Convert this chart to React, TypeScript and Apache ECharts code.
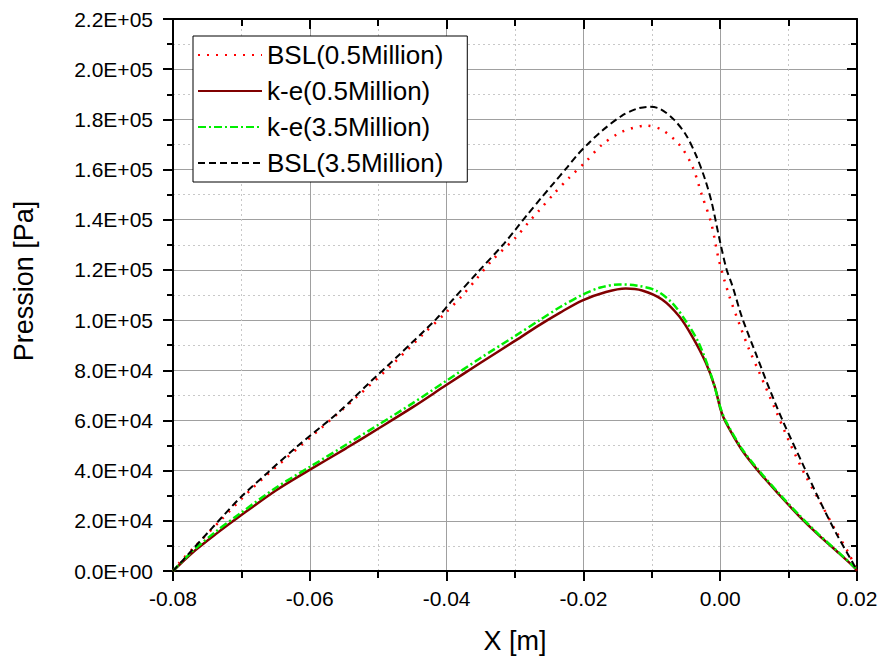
import React, { useEffect, useRef } from "react";
import * as echarts from "echarts";

// Pressure along X for the BSL and k-e turbulence models at two Reynolds numbers
const bsl05X = [-0.08, -0.0791, -0.0766, -0.073, -0.0684, -0.0633, -0.0582, -0.0532, -0.0481, -0.0436, -0.0401, -0.0377, -0.0356, -0.0334, -0.0299, -0.028, -0.0265, -0.0243, -0.0221, -0.0196, -0.0173, -0.0144, -0.0108, -0.0085, -0.006, -0.0041, -0.0027, -0.0013, -0.0002, 0.0013, 0.003, 0.0042, 0.0057, 0.0082, 0.0101, 0.0123, 0.0147, 0.0169, 0.0188, 0.02];
const bsl05Y = [0, 3200, 10300, 20300, 33000, 45300, 57300, 69200, 81900, 93900, 103000, 109800, 116500, 123700, 132900, 139000, 143600, 150400, 156700, 163300, 169800, 175000, 177500, 175800, 170000, 161500, 150000, 138500, 124000, 109800, 97000, 88500, 79200, 63500, 51500, 38900, 27000, 16000, 7000, 0];

const ke05X = [-0.08, -0.0772, -0.0737, -0.0704, -0.0649, -0.0601, -0.0547, -0.0499, -0.045, -0.0401, -0.0352, -0.0299, -0.0265, -0.0234, -0.0202, -0.0167, -0.0138, -0.0114, -0.0085, -0.006, -0.0041, -0.0021, -0.0008, 0.0001, 0.0008, 0.0032, 0.0057, 0.0086, 0.0115, 0.0144, 0.0174, 0.0196, 0.02];
const ke05Y = [0, 7200, 14800, 21500, 32200, 40200, 48900, 56900, 65200, 74000, 82700, 91900, 97900, 103000, 107800, 111200, 112600, 111800, 108200, 101500, 93500, 83000, 73500, 64000, 59300, 48100, 39400, 30500, 22000, 14300, 7000, 1500, 0];

const ke35X = [-0.08, -0.0772, -0.0737, -0.0704, -0.0649, -0.0601, -0.0547, -0.0499, -0.045, -0.0401, -0.0352, -0.0299, -0.0265, -0.0234, -0.0202, -0.0175, -0.0148, -0.0123, -0.0094, -0.007, -0.005, -0.0031, -0.0012, 0.0001, 0.0008, 0.0032, 0.0057, 0.0086, 0.0115, 0.0144, 0.0174, 0.0196, 0.02];
const ke35Y = [0, 7800, 15800, 22500, 33300, 41300, 50300, 58400, 66800, 75700, 84600, 93800, 99800, 105200, 110000, 113000, 114200, 113800, 111800, 106800, 99500, 90700, 77000, 64500, 59800, 48600, 39900, 30900, 22400, 14600, 7200, 1600, 0];

const bsl35X = [-0.08, -0.0772, -0.0743, -0.0701, -0.066, -0.062, -0.0557, -0.0513, -0.047, -0.0415, -0.0392, -0.0353, -0.0316, -0.0299, -0.0282, -0.0262, -0.0243, -0.0225, -0.0209, -0.0192, -0.0173, -0.0144, -0.0122, -0.0105, -0.0088, -0.0068, -0.005, -0.0035, -0.0022, -0.0012, -0.0002, 0.0009, 0.0018, 0.0032, 0.0052, 0.0074, 0.0093, 0.012, 0.0142, 0.0169, 0.0196, 0.02];
const bsl35Y = [0, 8400, 17100, 29400, 39600, 49300, 63500, 75000, 86000, 100500, 107800, 119500, 130500, 136200, 142000, 148600, 154700, 160500, 165800, 170600, 175400, 181400, 184200, 185000, 184200, 180000, 173800, 165500, 156000, 146400, 133500, 120500, 113500, 101000, 86700, 71200, 58900, 43000, 30000, 15300, 2200, 0];

const seriesNames = ["BSL(0.5Million)", "k-e(0.5Million)", "k-e(3.5Million)", "BSL(3.5Million)"];

const xMin = -0.08;
const xMax = 0.02;
const xStep = 0.02;
const yMin = 0;
const yMax = 220000;
const yStep = 20000;

const FONT = "'Liberation Sans', Arial, sans-serif";

const zip = (xs: number[], ys: number[]) => xs.map((x, i) => [x, ys[i]]);

const fmtY = (v: number) => {
  const [m, e] = v.toExponential(1).split("e");
  const n = parseInt(e, 10);
  return `${m}E${n < 0 ? "-" : "+"}${String(Math.abs(n)).padStart(2, "0")}`;
};

const fmtX = (v: number) => (Math.abs(v) < 1e-9 ? "0.00" : v.toFixed(2));

export default function App() {
  const ref = useRef<HTMLDivElement>(null);

  useEffect(() => {
    if (!ref.current) return;
    const chart = echarts.init(ref.current, undefined, { renderer: "svg" });

    const frameLine = { show: true, onZero: false, lineStyle: { color: "#000", width: 2 } };
    const majorGrid = { show: true, lineStyle: { color: "#a0a0a0", width: 1 } };
    const minorGrid = { show: true, lineStyle: { color: "#c8c8c8", width: 1, type: [2, 3] } };

    const line = (name: string, data: number[][], color: string, width: number, type: any) => ({
      name,
      type: "line",
      data,
      xAxisIndex: 0,
      yAxisIndex: 0,
      symbol: "none",
      showSymbol: false,
      smooth: 0.3,
      lineStyle: { color, width, type },
      itemStyle: { color },
    });

    chart.setOption({
      animation: false,
      backgroundColor: "#fff",
      textStyle: { fontFamily: FONT },
      grid: { left: 173, right: 28, top: 19, bottom: 89 },
      legend: {
        orient: "vertical",
        left: 193,
        top: 36,
        padding: [6, 24, 6, 4],
        itemWidth: 64,
        itemHeight: 14,
        itemGap: 10,
        borderColor: "#000",
        borderWidth: 1,
        backgroundColor: "#fff",
        itemStyle: { opacity: 0 },
        textStyle: { fontSize: 26, color: "#000", fontFamily: FONT },
        data: seriesNames,
      },
      xAxis: [
        {
          type: "value",
          min: xMin,
          max: xMax,
          interval: xStep,
          name: "X [m]",
          nameLocation: "middle",
          nameGap: 56,
          nameTextStyle: { fontSize: 27, color: "#000", fontFamily: FONT },
          axisLine: frameLine,
          axisTick: { show: true, inside: false, length: 10, lineStyle: { color: "#000", width: 2 } },
          minorTick: { show: true, splitNumber: 2, length: 7, lineStyle: { color: "#000", width: 2 } },
          axisLabel: { fontSize: 21, color: "#000", margin: 17, formatter: fmtX, fontFamily: FONT },
          splitLine: majorGrid,
          minorSplitLine: minorGrid,
        },
        {
          type: "value",
          position: "top",
          min: xMin,
          max: xMax,
          interval: xStep,
          axisLine: frameLine,
          axisTick: { show: true, inside: true, length: 10, lineStyle: { color: "#000", width: 2 } },
          minorTick: { show: true, splitNumber: 2, length: 7, lineStyle: { color: "#000", width: 2 } },
          axisLabel: { show: false },
          splitLine: { show: false },
        },
      ],
      yAxis: [
        {
          type: "value",
          min: yMin,
          max: yMax,
          interval: yStep,
          axisLine: frameLine,
          axisTick: { show: true, inside: false, length: 10, lineStyle: { color: "#000", width: 2 } },
          minorTick: { show: true, splitNumber: 2, length: 6, lineStyle: { color: "#000", width: 2 } },
          axisLabel: { fontSize: 21, color: "#000", margin: 20, formatter: fmtY, fontFamily: FONT },
          splitLine: majorGrid,
          minorSplitLine: minorGrid,
        },
        {
          type: "value",
          position: "right",
          min: yMin,
          max: yMax,
          interval: yStep,
          axisLine: frameLine,
          axisTick: { show: true, inside: true, length: 10, lineStyle: { color: "#000", width: 2 } },
          minorTick: { show: true, splitNumber: 2, length: 6, lineStyle: { color: "#000", width: 2 } },
          axisLabel: { show: false },
          splitLine: { show: false },
        },
      ],
      graphic: [
        {
          type: "text",
          x: 24,
          y: 281,
          rotation: Math.PI / 2,
          style: {
            text: "Pression [Pa]",
            fontSize: 27,
            fontFamily: FONT,
            fill: "#000",
            align: "center",
            verticalAlign: "middle",
          },
        },
      ],
      series: [
        line(seriesNames[0], zip(bsl05X, bsl05Y), "#ff0000", 2.5, [2, 7]),
        line(seriesNames[1], zip(ke05X, ke05Y), "#800000", 2.5, "solid"),
        line(seriesNames[2], zip(ke35X, ke35Y), "#00ee00", 2.5, [8, 3, 2, 3]),
        line(seriesNames[3], zip(bsl35X, bsl35Y), "#000000", 2, [7, 4]),
      ],
    });

    return () => chart.dispose();
  }, []);

  return (
    <div
      ref={ref}
      style={{ position: "absolute", left: 0, top: 0, width: 885, height: 660, background: "#fff" }}
    />
  );
}
